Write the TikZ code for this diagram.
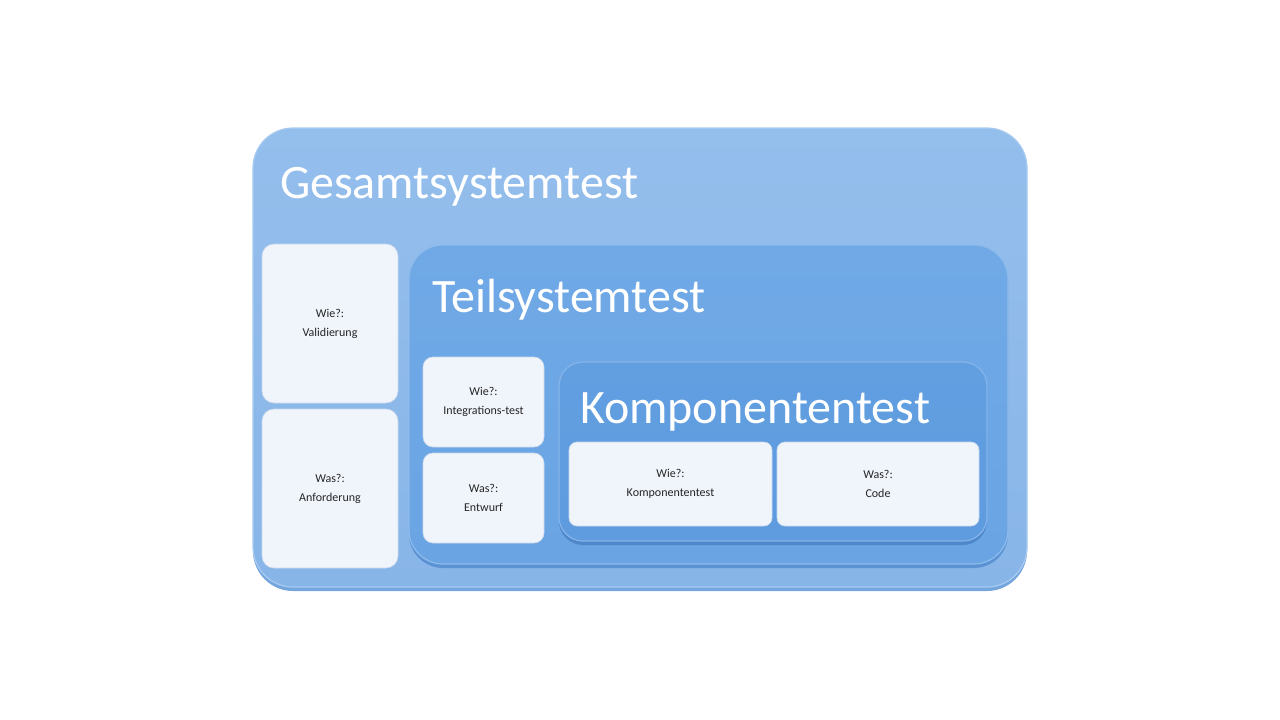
\documentclass[tikz,border=0pt]{standalone}
\usepackage{fontspec}
\setmainfont{Carlito}
\begin{document}
\begin{tikzpicture}[x=1pt,y=-1pt,
  every node/.style={inner sep=0pt, outer sep=0pt},
  outerbox/.style={rounded corners=40pt, top color=c1top, bottom color=c1bot, draw=c1edge, line width=1.2pt},
  midbox/.style={rounded corners=34pt, top color=c2top, bottom color=c2bot, draw=c2edge, line width=1.2pt},
  innbox/.style={rounded corners=24pt, top color=c3top, bottom color=c3bot, draw=c3edge, line width=1.2pt},
  card/.style={rectangle, fill=cardfill, draw=cardedge, line width=0.6pt, align=center, font=\fontsize{12}{19}\selectfont, text=black!85},
  title/.style={anchor=base west, text=white, font=\fontsize{48}{50}\selectfont}
]
\definecolor{c1top}{HTML}{94BEEC}
\definecolor{c1bot}{HTML}{88B5E8}
\definecolor{c1edge}{HTML}{A8CBF1}
\definecolor{c1dark}{HTML}{74A5DD}
\definecolor{c2top}{HTML}{70A9E6}
\definecolor{c2bot}{HTML}{6AA4E3}
\definecolor{c2edge}{HTML}{8DBBEC}
\definecolor{c2dark}{HTML}{5A92D4}
\definecolor{c3top}{HTML}{629FE1}
\definecolor{c3bot}{HTML}{5E9BDF}
\definecolor{c3edge}{HTML}{84B4EA}
\definecolor{c3dark}{HTML}{4F87CB}
\definecolor{cardfill}{HTML}{F0F4FB}
\definecolor{cardedge}{HTML}{C9D8EC}

\useasboundingbox[fill=white] (0,0) rectangle (1280,720);

% outer box
\fill[c1dark, rounded corners=40pt] (253,128) rectangle (1027,591);
\path[outerbox] (253,128) rectangle (1027,587);
\node[title] (gt) at (280,198) {Gesamtsystemtest};

\node[card, rounded corners=12pt, minimum width=136pt, minimum height=159pt] (wv) at (330,323.5) {Wie?:\\Validierung};
\node[card, rounded corners=12pt, minimum width=136pt, minimum height=159pt] (wa) at (330,488.5) {Was?:\\Anforderung};

% middle box
\fill[c2dark, rounded corners=34pt] (409,245) rectangle (1008,568);
\path[midbox] (409,245) rectangle (1008,564);
\node[title] (ts) at (432,312) {Teilsystemtest};

\node[card, rounded corners=10pt, minimum width=121pt, minimum height=90pt] (wi) at (483.5,402) {Wie?:\\Integrations-test};
\node[card, rounded corners=10pt, minimum width=121pt, minimum height=90pt] (we) at (483.5,498) {Was?:\\Entwurf};

% inner box
\fill[c3dark, rounded corners=24pt] (559,362) rectangle (987,545);
\path[innbox] (559,362) rectangle (987,541);
\node[title] (kt) at (580,423) {Komponententest};

\node[card, rounded corners=8pt, minimum width=203pt, minimum height=84pt] (wk) at (670.5,484) {Wie?:\\Komponententest};
\node[card, rounded corners=8pt, minimum width=202pt, minimum height=84pt] (wc) at (878,484) {Was?:\\Code};
\end{tikzpicture}
\end{document}
